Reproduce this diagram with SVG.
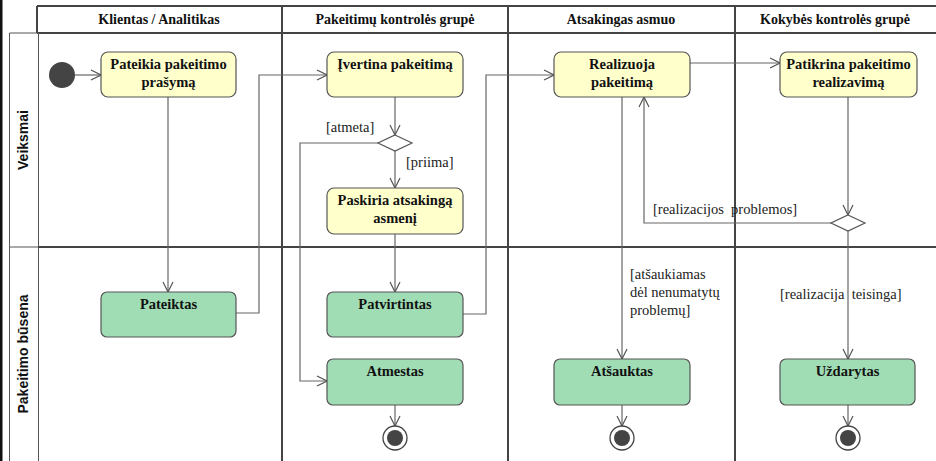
<svg xmlns="http://www.w3.org/2000/svg" width="936" height="461" viewBox="0 0 936 461">
  <style>
    .frame { stroke: #444; stroke-width: 2; fill: none; }
    .thin { stroke: #555; stroke-width: 1; fill: none; }
    .lane-title { font-family: "Liberation Serif", serif; font-weight: bold; font-size: 14px; fill: #111; text-anchor: middle; }
    .row-title { font-family: "Liberation Sans", sans-serif; font-weight: bold; font-size: 14px; fill: #111; text-anchor: middle; }
    .action { fill: #FFFFCC; stroke: #555; stroke-width: 1.2; }
    .state { fill: #A0DDB4; stroke: #555; stroke-width: 1.2; }
    .label { font-family: "Liberation Serif", serif; font-weight: bold; font-size: 14.5px; fill: #111; text-anchor: middle; }
    .guard { font-family: "Liberation Serif", serif; font-size: 14.5px; fill: #222; }
    .flow { stroke: #666; stroke-width: 1.2; fill: none; marker-end: url(#open); }
    .decision { fill: #fff; stroke: #555; stroke-width: 1.2; }
  </style>
  <defs>
    <marker id="open" viewBox="0 0 12 12" refX="11" refY="6" markerWidth="12" markerHeight="12" markerUnits="userSpaceOnUse" orient="auto">
      <path d="M1,1 L11,6 L1,11" fill="none" stroke="#555" stroke-width="1.2"/>
    </marker>
  </defs>

  <rect width="936" height="461" fill="#fff"/>

  <!-- swimlane frame -->
  <g id="lanes">
    <rect x="0" y="0" width="2.5" height="461" fill="#111"/>
    <line x1="37" y1="6" x2="936" y2="6" class="frame"/>
    <line x1="37" y1="6" x2="37" y2="33" class="frame"/>
    <line x1="37" y1="33" x2="936" y2="33" class="frame"/>
    <line x1="9.5" y1="33" x2="38" y2="33" class="thin"/>
    <line x1="9.5" y1="33" x2="9.5" y2="461" class="thin"/>
    <line x1="38.5" y1="33" x2="38.5" y2="461" class="thin"/>
    <line x1="9.5" y1="247" x2="38" y2="247" class="thin"/>
    <line x1="38" y1="247" x2="936" y2="247" class="frame"/>
    <line x1="282" y1="6" x2="282" y2="461" class="frame"/>
    <line x1="508" y1="6" x2="508" y2="461" class="frame"/>
    <line x1="735" y1="6" x2="735" y2="461" class="frame"/>
    <text x="159" y="24" class="lane-title">Klientas / Analitikas</text>
    <text x="395" y="24" class="lane-title">Pakeitimų kontrolės grupė</text>
    <text x="621" y="24" class="lane-title">Atsakingas asmuo</text>
    <text x="835" y="24" class="lane-title">Kokybės kontrolės grupė</text>
    <text x="0" y="0" class="row-title" transform="translate(28,140) rotate(-90)">Veiksmai</text>
    <text x="0" y="0" class="row-title" transform="translate(28,354) rotate(-90)">Pakeitimo būsena</text>
  </g>

  <!-- connectors -->
  <g id="connectors">
    <line x1="75" y1="75" x2="101" y2="75" class="flow"/>
    <line x1="168" y1="97" x2="168" y2="292" class="flow"/>
    <polyline points="236,313 259,313 259,75 327,75" class="flow"/>
    <line x1="395" y1="97" x2="395" y2="135" class="flow"/>
    <polyline points="378,143 300,143 300,381 327,381" class="flow"/>
    <line x1="395" y1="151" x2="395" y2="188" class="flow"/>
    <line x1="395" y1="234" x2="395" y2="292" class="flow"/>
    <polyline points="463,314 486,314 486,75 554,75" class="flow"/>
    <line x1="395" y1="405" x2="395" y2="426" class="flow"/>
    <line x1="690" y1="63" x2="780" y2="63" class="flow"/>
    <line x1="622" y1="97" x2="622" y2="359" class="flow"/>
    <line x1="622" y1="405" x2="622" y2="426" class="flow"/>
    <line x1="848" y1="97" x2="848" y2="215" class="flow"/>
    <polyline points="832,223 644,223 644,97" class="flow"/>
    <line x1="848" y1="231" x2="848" y2="359" class="flow"/>
    <line x1="848" y1="405" x2="848" y2="426" class="flow"/>
    <text x="326" y="132" class="guard">[atmeta]</text>
    <text x="406" y="167" class="guard">[priima]</text>
    <text x="653" y="214" class="guard" xml:space="preserve">[realizacijos  problemos]</text>
    <text x="630" y="279" class="guard">[atšaukiamas</text>
    <text x="630" y="297" class="guard">dėl nenumatytų</text>
    <text x="630" y="315" class="guard">problemų]</text>
    <text x="780" y="299" class="guard" xml:space="preserve">[realizacija  teisinga]</text>
  </g>

  <g id="start">
    <circle cx="62" cy="75" r="13" fill="#444"/>
  </g>

  <g id="pateikia">
    <rect x="101" y="52" width="135" height="45" rx="7" class="action"/>
    <text x="168.5" y="69" class="label">Pateikia pakeitimo</text>
    <text x="168.5" y="87" class="label">prašymą</text>
  </g>

  <g id="ivertina">
    <rect x="327" y="52" width="136" height="45" rx="7" class="action"/>
    <text x="395" y="69" class="label">Įvertina pakeitimą</text>
  </g>

  <g id="decision1">
    <polygon points="395,135 412,143 395,151 378,143" class="decision"/>
  </g>

  <g id="paskiria">
    <rect x="327" y="188" width="136" height="46" rx="7" class="action"/>
    <text x="395" y="205" class="label">Paskiria atsakingą</text>
    <text x="395" y="223" class="label">asmenį</text>
  </g>

  <g id="realizuoja">
    <rect x="554" y="52" width="136" height="45" rx="7" class="action"/>
    <text x="622" y="69" class="label">Realizuoja</text>
    <text x="622" y="87" class="label">pakeitimą</text>
  </g>

  <g id="patikrina">
    <rect x="780" y="52" width="137" height="45" rx="7" class="action"/>
    <text x="848.5" y="69" class="label">Patikrina pakeitimo</text>
    <text x="848.5" y="87" class="label">realizavimą</text>
  </g>

  <g id="decision2">
    <polygon points="848,215 865,223 848,231 831,223" class="decision"/>
  </g>

  <g id="pateiktas">
    <rect x="101" y="292" width="135" height="45" rx="6" class="state"/>
    <text x="168.5" y="309" class="label">Pateiktas</text>
  </g>

  <g id="patvirtintas">
    <rect x="327" y="292" width="136" height="45" rx="6" class="state"/>
    <text x="395" y="309" class="label">Patvirtintas</text>
  </g>

  <g id="atmestas">
    <rect x="327" y="359" width="136" height="46" rx="6" class="state"/>
    <text x="395" y="376" class="label">Atmestas</text>
  </g>

  <g id="atsauktas">
    <rect x="554" y="359" width="136" height="46" rx="6" class="state"/>
    <text x="622" y="376" class="label">Atšauktas</text>
  </g>

  <g id="uzdarytas">
    <rect x="780" y="359" width="135" height="46" rx="6" class="state"/>
    <text x="847.5" y="376" class="label">Uždarytas</text>
  </g>

  <g id="end1">
    <circle cx="395" cy="438" r="12" fill="#fff" stroke="#444" stroke-width="1.3"/>
    <circle cx="395" cy="438" r="8" fill="#444"/>
  </g>
  <g id="end2">
    <circle cx="622" cy="438" r="12" fill="#fff" stroke="#444" stroke-width="1.3"/>
    <circle cx="622" cy="438" r="8" fill="#444"/>
  </g>
  <g id="end3">
    <circle cx="848" cy="438" r="12" fill="#fff" stroke="#444" stroke-width="1.3"/>
    <circle cx="848" cy="438" r="8" fill="#444"/>
  </g>
</svg>
